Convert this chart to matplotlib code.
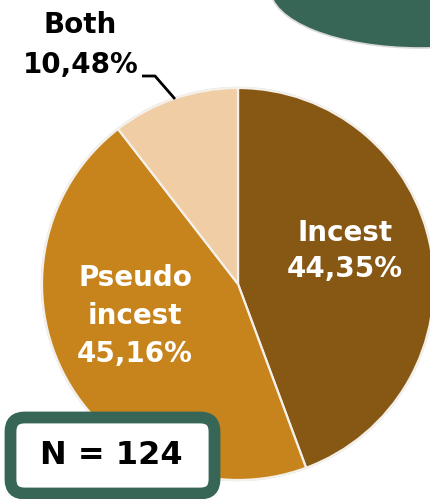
import matplotlib
matplotlib.use("Agg")
import matplotlib.pyplot as plt
import matplotlib.patches as mpatches

# Data
labels = ["Incest", "Pseudo\nincest", "Both"]
shares = [44.35, 45.16, 10.48]
colors = ["#875714", "#C8841C", "#F0CDA5"]
n_total = 124

GREEN = "#376656"
W, H = 430, 499

fig = plt.figure(figsize=(W / 100, H / 100), dpi=100)
ax = fig.add_axes([0, 0, 1, 1])

# decorative green blob top-right
ax.add_patch(mpatches.Ellipse((420, H + 12), 300, 120, facecolor=GREEN,
                              edgecolor="#d8d8d8", linewidth=1.2, zorder=1))

# ── Pie ─────────────────────────────────────────────────────────────────────
PIE_C = (238, H - 284)
PIE_R = 196
ax.add_patch(mpatches.Circle(PIE_C, PIE_R + 1.2, facecolor="#dcdcdc",
                             edgecolor="none", zorder=0))
ax.pie(shares, colors=colors, startangle=90, counterclock=False,
       center=PIE_C, radius=PIE_R, frame=True,
       wedgeprops=dict(edgecolor="#f4f0ea", linewidth=1.6))
ax.set_xlim(0, W)
ax.set_ylim(0, H)
ax.set_aspect("equal")
ax.axis("off")

fmt = lambda v: f"{v:.2f}".replace(".", ",") + "%"
font = dict(fontsize=20, fontweight="bold", family="DejaVu Sans")

ax.text(345, H - 251, f"{labels[0]}\n{fmt(shares[0])}", ha="center", va="center",
        color="white", linespacing=1.4, **font)
ax.text(135, H - 316, f"{labels[1]}\n{fmt(shares[1])}", ha="center", va="center",
        color="white", linespacing=1.45, **font)
ax.text(80, H - 25, labels[2], ha="center", va="center", color="black", **font)
ax.text(81, H - 65, fmt(shares[2]), ha="center", va="center", color="black", **font)

# leader line for "Both"
ax.plot([142, 155, 175], [H - 76, H - 76, H - 99], color="black", lw=2,
        solid_capstyle="butt", zorder=5)

# ── N box ───────────────────────────────────────────────────────────────────
ax.add_patch(mpatches.FancyBboxPatch((10.5, 5.5), 204, 76,
                                     boxstyle="round,pad=0,rounding_size=14",
                                     facecolor="white", edgecolor=GREEN,
                                     linewidth=8.5, zorder=6))
ax.text(111, 44, f"N = {n_total}", ha="center", va="center", color="black",
        fontsize=23, fontweight="bold", family="DejaVu Sans", zorder=7)

plt.savefig("out.png", dpi=100)
